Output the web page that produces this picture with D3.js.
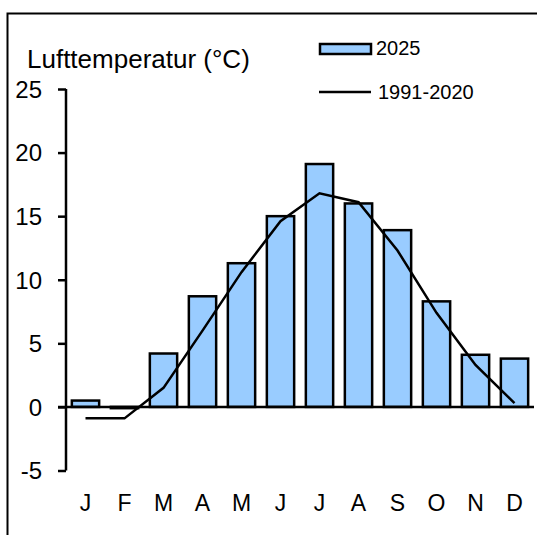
<!DOCTYPE html>
<html>
<head>
<meta charset="utf-8">
<script src="https://cdn.jsdelivr.net/npm/d3@7"></script>
<style>
body { margin: 0; background: #fff; }
svg text { font-family: "Liberation Sans", Arial, sans-serif; fill: #000; }
</style>
</head>
<body>
<div id="chart"></div>
<script>
var months = ["J", "F", "M", "A", "M", "J", "J", "A", "S", "O", "N", "D"];
var temp2025 = [0.5, -0.1, 4.2, 8.7, 11.3, 15.0, 19.1, 16.0, 13.9, 8.3, 4.1, 3.8];
var normal = [-0.9, -0.9, 1.5, 6.0, 10.6, 14.6, 16.8, 16.1, 12.3, 7.4, 3.3, 0.3];
var yTicks = [-5, 0, 5, 10, 15, 20, 25];

var width = 537, height = 535;

var svg = d3.select("#chart").append("svg")
	.attr("width", width)
	.attr("height", height);

// frame
svg.append("rect")
	.attr("x", 7.5).attr("y", 13.5)
	.attr("width", 540).attr("height", 540)
	.attr("fill", "none")
	.attr("stroke", "#000")
	.attr("stroke-width", 2);

var idx = d3.range(months.length);

var x = d3.scaleBand()
	.domain(idx)
	.range([66, 534])
	.paddingInner(0.3)
	.paddingOuter(0.15);

var y = d3.scaleLinear()
	.domain([-5, 25])
	.range([470.5, 89]);

// bars
svg.selectAll(".bar")
	.data(temp2025)
	.enter().append("rect")
	.attr("class", "bar")
	.attr("x", function(d, i) { return x(i); })
	.attr("width", x.bandwidth())
	.attr("y", function(d) { return y(Math.max(0, d)); })
	.attr("height", function(d) { return Math.abs(y(d) - y(0)); })
	.attr("fill", "#99ccff")
	.attr("stroke", "#000")
	.attr("stroke-width", 2.5);

// zero line
svg.append("line")
	.attr("x1", 58).attr("x2", 534)
	.attr("y1", y(0)).attr("y2", y(0))
	.attr("stroke", "#000")
	.attr("stroke-width", 2.5);

// y axis
var yAxis = d3.axisLeft(y)
	.tickValues(yTicks)
	.tickSize(8)
	.tickPadding(16)
	.tickFormat(function(d) { return String(d); });

var gy = svg.append("g")
	.attr("transform", "translate(66,0)")
	.call(yAxis);
gy.select(".domain").remove();
gy.append("line")
	.attr("x1", 0).attr("x2", 0)
	.attr("y1", y(25)).attr("y2", y(-5))
	.attr("stroke", "#000")
	.attr("stroke-width", 2.5);
gy.selectAll(".tick line").attr("stroke", "#000").attr("stroke-width", 2.5);
gy.selectAll(".tick text")
	.style("font-size", "24px")
	.attr("dy", "0.35em");

// normal line
var line = d3.line()
	.x(function(d, i) { return x(i) + x.bandwidth() / 2; })
	.y(function(d) { return y(d); });

svg.append("path")
	.datum(normal)
	.attr("d", line)
	.attr("fill", "none")
	.attr("stroke", "#000")
	.attr("stroke-width", 2.5);

// month labels
svg.selectAll(".month")
	.data(months)
	.enter().append("text")
	.attr("class", "month")
	.attr("x", function(d, i) { return x(i) + x.bandwidth() / 2; })
	.attr("y", 511)
	.attr("text-anchor", "middle")
	.style("font-size", "23px")
	.text(function(d) { return d; });

// title
svg.append("text")
	.attr("x", 27).attr("y", 68)
	.style("font-size", "26px")
	.text("Lufttemperatur (°C)");

// legend
svg.append("rect")
	.attr("x", 320).attr("y", 44)
	.attr("width", 51).attr("height", 10)
	.attr("fill", "#99ccff")
	.attr("stroke", "#000")
	.attr("stroke-width", 2.5);
svg.append("text")
	.attr("x", 376).attr("y", 55)
	.style("font-size", "20px")
	.text("2025");
svg.append("line")
	.attr("x1", 319).attr("x2", 371)
	.attr("y1", 92).attr("y2", 92)
	.attr("stroke", "#000")
	.attr("stroke-width", 2.5);
svg.append("text")
	.attr("x", 378).attr("y", 99)
	.style("font-size", "20px")
	.text("1991-2020");
</script>
</body>
</html>
